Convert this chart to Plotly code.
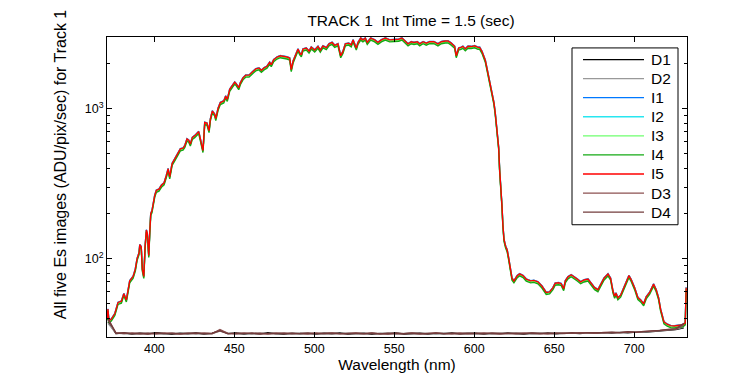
import plotly.graph_objects as go

# ---------------- data ----------------
wl = [370.5, 371.0, 371.6, 373.1, 375.3, 377.3, 379.4, 380.9, 382.5, 384.0, 384.6, 386.7,
      388.1, 389.2, 390.4, 390.9, 391.8, 392.5, 393.4, 394.2, 395.0, 395.6, 396.5, 397.1,
      397.75, 398.5, 399.2, 400.25, 401.25, 402.9, 404.4, 406.1, 407.5, 408.6, 409.6, 411.1,
      412.75, 414.8, 416.25, 417.9, 419.0, 420.4, 421.5, 422.5, 423.75, 425.25, 426.7, 427.75,
      428.6, 429.8, 430.4, 431.5, 432.9, 434.2, 435.0, 436.25, 437.75, 438.4, 439.8, 441.25,
      443.4, 444.6, 445.6, 447.1, 448.75, 450.25, 451.25, 452.75, 453.75, 455.4, 457.1, 459.2,
      461.25, 463.4, 465.4, 466.9, 468.6, 470.4, 472.1, 473.1, 474.6, 476.7, 478.75, 480.9,
      482.9, 484.6, 485.6, 486.7, 488.4, 489.8, 490.9, 491.9, 492.9, 495.0, 496.7, 498.1,
      500.25, 502.3, 503.75, 505.4, 507.5, 509.2, 511.1, 512.75, 514.8, 516.5, 517.9, 519.4,
      521.5, 523.1, 524.2, 526.25, 527.3, 529.0, 530.4, 531.9, 533.1, 535.25, 537.75, 539.8,
      541.9, 544.4, 547.1, 550.25, 552.75, 554.8, 556.9, 558.6, 560.6, 562.3, 564.4, 565.9,
      568.0, 570.0, 572.1, 574.8, 577.3, 579.4, 581.9, 583.6, 585.6, 587.75, 588.75, 590.25,
      591.7, 592.9, 594.4, 596.1, 598.1, 600.25, 602.3, 603.4, 604.8, 606.1, 606.9, 607.9,
      609.0, 610.0, 611.1, 612.3, 613.1, 614.2, 615.25, 615.9, 616.5, 617.3, 617.9, 618.6,
      619.6, 620.6, 621.5, 622.5, 623.6, 624.8, 625.25, 626.25, 626.9, 628.4, 630.5, 632.5,
      635.25, 637.3, 639.8, 642.3, 645.0, 647.1, 649.2, 650.6, 652.75, 654.4, 655.9, 656.9,
      658.6, 660.6, 662.3, 664.4, 666.5, 668.6, 671.1, 673.1, 675.25, 677.3, 679.0, 681.1,
      683.6, 685.25, 686.7, 687.75, 688.6, 689.8, 691.5, 692.9, 694.4, 695.6, 696.7, 698.1,
      700.25, 702.3, 704.0, 705.9, 707.5, 709.6, 711.1, 712.1, 713.75, 715.25, 716.5, 717.3,
      718.6, 720.6, 722.75, 725.0, 728.4, 730.4, 731.9, 732.5]

I5 = [40, 46, 38.5, 39.5, 43, 51, 52, 58.4, 53, 63, 71, 76,
      85, 100, 109, 124, 120, 85, 76, 120, 155, 148, 105, 148,
      200, 208, 235, 265, 285, 290, 308, 320, 358, 397, 350, 430,
      462, 500, 538, 545, 566, 627, 615, 580, 643, 660, 684, 702,
      640, 552, 525, 808, 800, 712, 850, 965, 917, 858, 1000, 1096,
      1124, 1213, 1152, 1342, 1412, 1500, 1460, 1377, 1485, 1603, 1670, 1670,
      1755, 1838, 1866, 1800, 1866, 1915, 2035, 1962, 2118, 2206, 2250, 2240,
      2206, 2173, 1820, 2065, 2285, 2493, 2350, 2285, 2493, 2530, 2420, 2570,
      2460, 2600, 2450, 2620, 2550, 2700, 2760, 2640, 2700, 2250, 2405, 2700,
      2730, 2660, 2870, 2530, 2760, 2950, 2870, 2950, 2760, 2950, 2870, 2760,
      2870, 2950, 2870, 2870, 2900, 2950, 2820, 2700, 2790, 2760, 2790, 2700,
      2790, 2730, 2790, 2790, 2700, 2790, 2820, 2820, 2730, 2600, 2250, 2530,
      2560, 2600, 2500, 2600, 2590, 2620, 2560, 2560, 2406, 2230, 2100, 1866,
      1644, 1448, 1243, 1096, 941, 712, 552, 387, 277, 228, 168, 134,
      121, 114, 101, 85, 74, 71, 72, 75, 77, 79, 77, 73,
      71, 71.5, 70, 65.6, 59.5, 60, 64, 68.5, 69, 68, 63, 71,
      75.5, 78, 76, 73, 70, 72, 73, 69, 64, 62, 67, 74,
      79, 74, 61, 56, 59, 54.7, 57, 62, 67, 74, 77, 72.5,
      64, 55, 53, 50, 55.5, 59.4, 64, 67.5, 62, 54.7, 46, 42.5,
      37.8, 36.5, 35.7, 35.5, 36, 36.2, 37.3, 64]

# relative level of each illuminated image compared with I5
I_level = {"I1": 1.004, "I2": 1.0, "I3": 0.985, "I4": 0.97, "I5": 1.0}

dark_wl = [371 + 5 * k for k in range(73)]
D1 = [38, 31.6, 31.9, 31.4, 31.8, 31.5, 32.0, 31.6, 31.3, 31.8, 31.5, 31.9, 31.4, 31.7, 33.2,
      31.6, 31.9, 31.4, 31.7, 31.5, 32.0, 31.6, 31.3, 31.8, 31.5, 31.7, 31.4, 31.8, 31.5, 31.9,
      31.4, 31.6, 31.8, 31.3, 31.7, 31.5, 31.9, 31.4, 31.6, 31.8, 31.4, 31.7, 31.5, 31.9, 31.5,
      31.6, 31.8, 31.4, 31.7, 31.5, 31.9, 31.6, 31.4, 31.8, 31.6, 31.9, 31.5, 31.7, 31.9, 31.6,
      32.0, 31.7, 32.1, 31.9, 32.2, 32.0, 32.4, 32.3, 32.6, 32.9, 33.3, 33.6, 34.5]
D2 = [37, 31.9, 31.5, 31.8, 31.4, 31.9, 31.6, 31.3, 31.8, 31.5, 31.9, 31.4, 31.7, 31.5, 32.8,
      31.9, 31.5, 31.8, 31.4, 31.9, 31.5, 31.8, 31.6, 31.4, 31.9, 31.5, 31.8, 31.4, 31.7, 31.5,
      31.9, 31.5, 31.4, 31.8, 31.5, 31.9, 31.4, 31.7, 31.9, 31.5, 31.8, 31.4, 31.9, 31.5, 31.7,
      31.9, 31.5, 31.8, 31.4, 31.8, 31.5, 31.9, 31.7, 31.5, 31.9, 31.6, 31.8, 32.0, 31.7, 32.0,
      31.8, 32.1, 31.9, 32.2, 32.0, 32.3, 32.5, 32.4, 32.8, 33.1, 33.4, 33.9, 35.0]
D3 = [39, 32.0, 31.6, 31.9, 31.5, 31.8, 31.4, 31.9, 31.7, 31.4, 31.8, 31.6, 31.9, 31.5, 33.6,
      31.7, 31.5, 31.9, 31.6, 31.8, 31.4, 31.9, 31.5, 31.8, 31.6, 31.4, 31.9, 31.6, 31.8, 31.5,
      31.7, 31.9, 31.5, 31.8, 31.6, 31.4, 31.8, 31.6, 31.9, 31.4, 31.7, 31.9, 31.6, 31.5, 31.9,
      31.5, 31.7, 31.9, 31.6, 31.4, 31.8, 31.5, 31.9, 31.7, 31.5, 31.8, 31.6, 31.9, 31.7, 32.1,
      31.9, 31.8, 32.2, 32.0, 32.1, 32.4, 32.2, 32.6, 32.7, 33.1, 33.5, 33.8, 36.0]
D4 = [40, 31.7, 32.0, 31.5, 31.8, 31.4, 31.9, 31.6, 31.8, 31.5, 31.7, 31.9, 31.5, 31.8, 33.0,
      31.5, 31.8, 31.6, 31.9, 31.4, 31.7, 31.5, 31.9, 31.6, 31.7, 31.9, 31.5, 31.7, 31.9, 31.6,
      31.5, 31.8, 31.6, 31.9, 31.4, 31.8, 31.6, 31.5, 31.8, 31.7, 31.5, 31.9, 31.6, 31.8, 31.4,
      31.8, 31.6, 31.5, 31.9, 31.7, 31.6, 31.8, 31.5, 31.9, 31.7, 31.5, 31.9, 31.6, 32.0, 31.8,
      32.1, 31.9, 32.0, 32.3, 32.1, 32.5, 32.3, 32.7, 32.9, 33.2, 33.7, 34.0, 37.0]

series_order = ["D1", "D2", "I1", "I2", "I3", "I4", "I5", "D3", "D4"]
colors = {"D1": "#000000", "D2": "#999999", "I1": "#0078ff", "I2": "#28e6f0",
          "I3": "#6eff6e", "I4": "#14aa14", "I5": "#ff0000", "D3": "#8c5050", "D4": "#733c3c"}
dark = {"D1": D1, "D2": D2, "D3": D3, "D4": D4}

title_text = "TRACK 1  Int Time = 1.5 (sec)"
xlabel = "Wavelength (nm)"
ylabel = "All five Es images (ADU/pix/sec) for Track 1"
xticks = [400, 450, 500, 550, 600, 650, 700]
yticks = [100, 1000]
yticklabels = ["10<sup>2</sup>", "10<sup>3</sup>"]
yminor = [40, 50, 60, 70, 80, 90, 200, 300, 400, 500, 600, 700, 800, 900, 2000, 3000]

# ---------------- figure ----------------
W, H = 750, 375
L, R, T, B = 99, 71, 29, 44
PW, PH = W - L - R, H - T - B
FONT = "Liberation Sans, Arial, Helvetica, sans-serif"

fig = go.Figure()
for name in series_order:
    if name.startswith("D"):
        xs, ys = dark_wl, dark[name]
    else:
        xs, ys = wl, [v * I_level[name] for v in I5]
    fig.add_trace(go.Scatter(x=xs, y=ys, mode="lines", name=name,
                             line=dict(color=colors[name], width=1.4),
                             showlegend=False))

def px_x(p):
    return (p - L) / PW

def px_y(p):
    return (H - B - p) / PH

# manual legend (long line samples like the original)
shapes = [dict(type="rect", xref="paper", yref="paper",
               x0=px_x(564), x1=px_x(670), y0=px_y(218), y1=px_y(40),
               line=dict(color="black", width=1), fillcolor="white", layer="above")]
annotations = []
for k, name in enumerate(series_order):
    yc = 51.7 + 19.2 * k
    shapes.append(dict(type="line", xref="paper", yref="paper",
                       x0=px_x(575), x1=px_x(636), y0=px_y(yc), y1=px_y(yc),
                       line=dict(color=colors[name], width=1.3), layer="above"))
    annotations.append(dict(xref="paper", yref="paper", x=px_x(641), y=px_y(yc),
                            text=name, showarrow=False, xanchor="left", yanchor="middle",
                            font=dict(family=FONT, size=15.5, color="black")))

annotations.append(dict(xref="paper", yref="paper", x=px_x(52), y=px_y(157),
                        text=ylabel, textangle=-90, showarrow=False,
                        xanchor="center", yanchor="middle",
                        font=dict(family=FONT, size=16, color="black")))

fig.update_layout(
    width=W, height=H,
    margin=dict(l=L, r=R, t=T, b=B, pad=0),
    paper_bgcolor="white", plot_bgcolor="white",
    showlegend=False,
    title=dict(text=title_text, x=403 / W, xref="container", xanchor="center",
               y=1 - 13 / H, yref="container", yanchor="middle",
               font=dict(family=FONT, size=15.5, color="black")),
    shapes=shapes, annotations=annotations,
    font=dict(family=FONT, color="black"),
)
fig.update_xaxes(range=[370.4, 733.0], tickvals=xticks, ticks="inside", ticklen=5,
                 tickcolor="black", showline=True, linecolor="black", linewidth=1,
                 mirror="ticks", showgrid=False, zeroline=False,
                 tickfont=dict(family=FONT, size=12.5, color="black"),
                 title=dict(text=xlabel, font=dict(family=FONT, size=15.5, color="black"),
                            standoff=4))
fig.update_yaxes(type="log", range=[1.4771, 3.4771], tickvals=yticks, ticktext=yticklabels,
                 ticks="inside", ticklen=5, tickcolor="black", showline=True,
                 linecolor="black", linewidth=1, mirror="ticks", showgrid=False,
                 zeroline=False,
                 minor=dict(tickvals=yminor, ticks="inside", ticklen=3, tickcolor="black",
                            showgrid=False),
                 tickfont=dict(family=FONT, size=12.5, color="black"))

fig.write_html("out.html")
